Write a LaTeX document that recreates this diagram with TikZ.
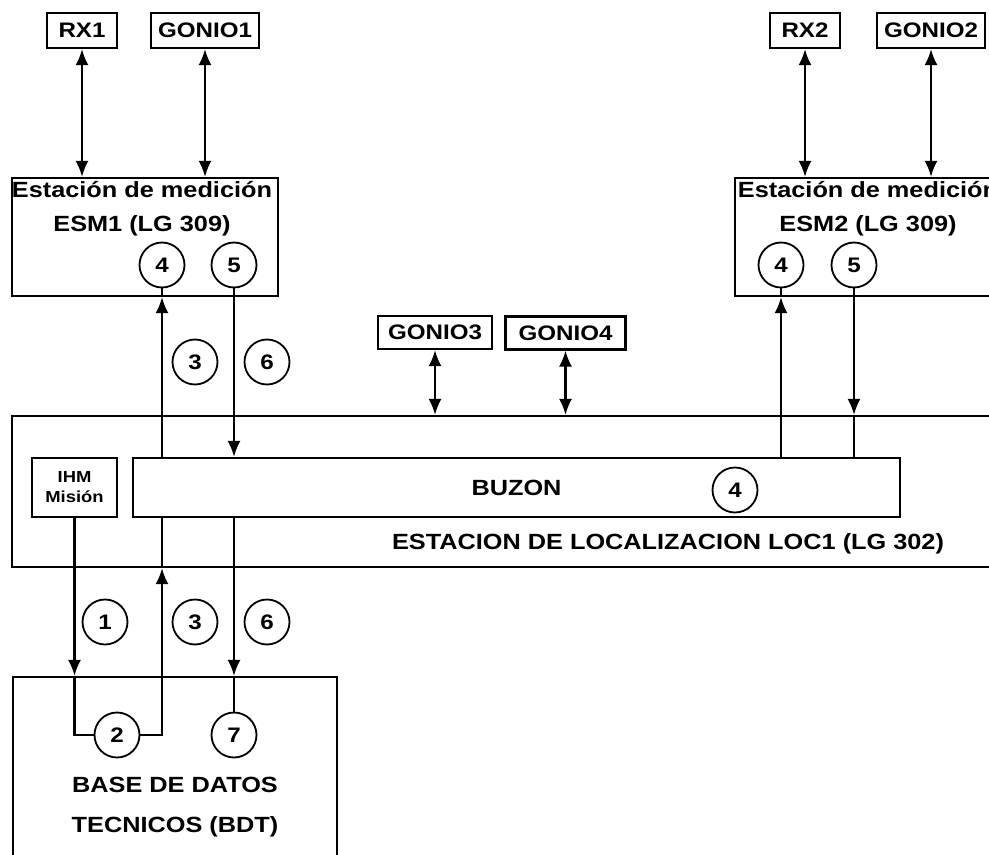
\documentclass[tikz,border=0pt]{standalone}
\usepackage{fontspec}
\setmainfont{Liberation Sans}[FakeStretch=1.15]
\usetikzlibrary{arrows.meta,calc}

\begin{document}
\begin{tikzpicture}[
    x=0.5pt, y=-0.5pt,
    box/.style={
        draw,
        line width=1.1pt,
        inner sep=0pt,
        font=\bfseries\fontsize{10.5}{12}\selectfont
    },
    num/.style={
        draw,
        circle,
        line width=0.9pt,
        minimum size=22.5pt,
        inner sep=0pt,
        font=\bfseries\fontsize{10.5}{12}\selectfont
    },
    lbl/.style={
        align=center,
        inner sep=0pt,
        font=\bfseries\fontsize{11}{17}\selectfont
    },
    link/.style={line width=1.1pt},
    tip/.style={line width=1.1pt, -{Latex[length=8pt,width=6.5pt]}},
    both/.style={line width=1.1pt, {Latex[length=8pt,width=6.5pt]}-{Latex[length=8pt,width=6.5pt]}}
]
\useasboundingbox (0,0) rectangle (989,855);

% sensors
\node[box, minimum width=35pt, minimum height=17.5pt] (rx1) at (82,30.5) {RX1};
\node[box, minimum width=54pt, minimum height=17.5pt] (gonio1) at (205,30.5) {GONIO1};
\node[box, minimum width=35pt, minimum height=17.5pt] (rx2) at (805,30.5) {RX2};
\node[box, minimum width=54pt, minimum height=17.5pt] (gonio2) at (931,30.5) {GONIO2};
\node[box, minimum width=57pt, minimum height=16.5pt] (gonio3) at (435,332.5) {GONIO3};
\node[box, minimum width=60pt, minimum height=16.5pt] (gonio4) at (565.5,333) {GONIO4};

% measuring stations
\node[box, minimum width=133pt, minimum height=59pt] (esm1) at (145,237) {};
\node[lbl] (esm1t) at (142,209) {Estación de medición\\ESM1 (LG 309)};
\node[box, minimum width=133pt, minimum height=59pt] (esm2) at (868,237) {};
\node[lbl] (esm2t) at (868,209) {Estación de medición\\ESM2 (LG 309)};
\node[num] (e1n4) at (162,265) {4};
\node[num] (e1n5) at (234,265) {5};
\node[num] (e2n4) at (781,265) {4};
\node[num] (e2n5) at (854,265) {5};

% localisation station
\node[box, minimum width=544pt, minimum height=75.5pt] (loc1) at (556,491.5) {};
\node[box, minimum width=42.5pt, minimum height=29.5pt, align=center,
      font=\bfseries\fontsize{8}{10}\selectfont] (ihm) at (74.5,487.5) {IHM\\Misión};
\node[box, minimum width=383.5pt, minimum height=29.5pt,
      font=\bfseries\fontsize{11}{13}\selectfont] (buzon) at (516.5,487.5) {BUZON};
\node[num] (bz4) at (735,490) {4};
\node[lbl] (loc1t) at (668,544) {ESTACION DE LOCALIZACION LOC1 (LG 302)};

% data base
\node[box, minimum width=162pt, minimum height=136.5pt] (bdt) at (175,813.5) {};
\node[lbl] (bdtt) at (175,807) {BASE DE DATOS\\[3pt]TECNICOS (BDT)};
\node[num] (b2) at (117,735) {2};
\node[num] (b7) at (234,735) {7};

% message numbers
\node[num] (m3a) at (195,362) {3};
\node[num] (m6a) at (267,362) {6};
\node[num] (m1) at (105,622) {1};
\node[num] (m3b) at (195,622) {3};
\node[num] (m6b) at (267,622) {6};

% sensor links
\draw[both] (rx1.south) -- (rx1 |- esm1.north);
\draw[both] (gonio1.south) -- (gonio1 |- esm1.north);
\draw[both] (rx2.south) -- (rx2 |- esm2.north);
\draw[both] (gonio2.south) -- (gonio2 |- esm2.north);
\draw[both] (gonio3.south) -- (gonio3 |- loc1.north);
\draw[both] (gonio4.south) -- (gonio4 |- loc1.north);

% stations to BUZON
\draw[tip] (e1n4 |- buzon.north) -- (e1n4 |- esm1.south);
\draw[link] (e1n4 |- esm1.south) -- (e1n4.south);
\draw[tip] (e1n5.south) -- (e1n5 |- buzon.north);
\draw[tip] (e2n4 |- buzon.north) -- (e2n4 |- esm2.south);
\draw[link] (e2n4 |- esm2.south) -- (e2n4.south);
\draw[tip] (e2n5.south) -- (e2n5 |- loc1.north);
\draw[link] (e2n5 |- loc1.north) -- (e2n5 |- buzon.north);

% LOC1 to BDT
\draw[tip] (ihm.south) -- (ihm |- bdt.north);
\draw[link] (ihm |- bdt.north) |- (b2.west);
\draw[tip] (b2.east) -| (e1n4 |- loc1.south);
\draw[link] (e1n4 |- loc1.south) -- (e1n4 |- buzon.south);
\draw[tip] (b7 |- buzon.south) -- (b7 |- bdt.north);
\draw[link] (b7 |- bdt.north) -- (b7.north);
\end{tikzpicture}
\end{document}
